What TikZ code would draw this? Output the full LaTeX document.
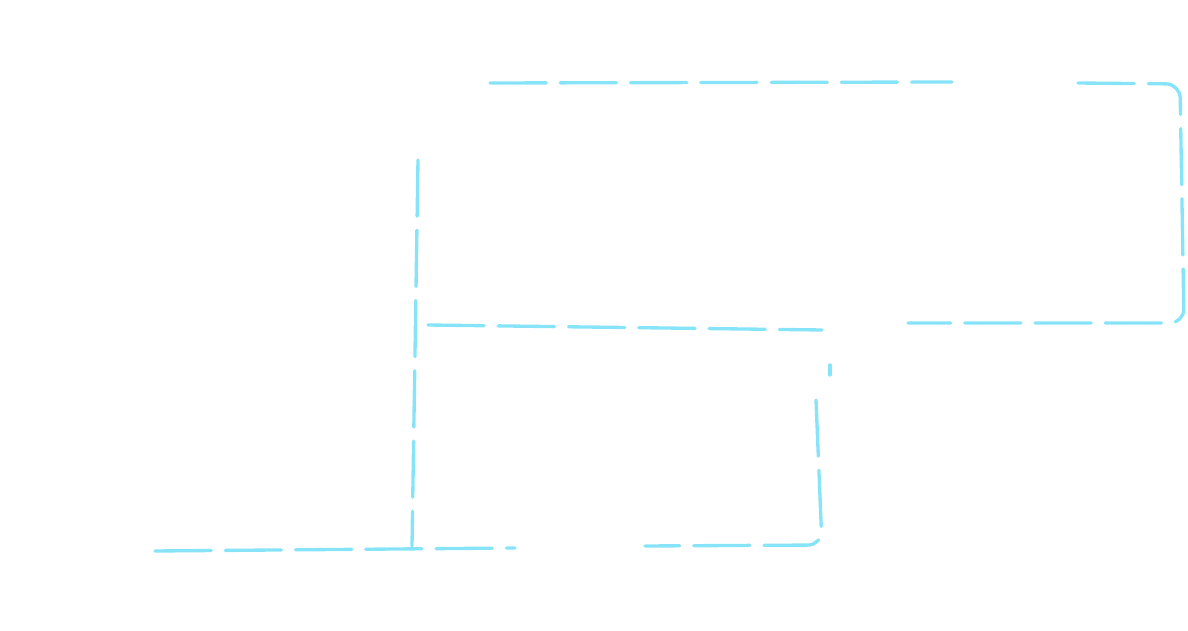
\documentclass[tikz,border=0pt]{standalone}
\definecolor{sketchcyan}{RGB}{135,228,248}

\begin{document}
\begin{tikzpicture}[x=0.02cm, y=-0.02cm,
    sketch/.style={draw=sketchcyan, line width=1.9pt, line cap=round,
      dash pattern=on 32pt off 8pt, rounded corners=8}]
        \useasboundingbox (0,0) rectangle (1188,631);

        % upper box
        \coordinate (topA) at (490,83);
        \coordinate (topB) at (952,82);
        \coordinate (topC) at (1078,83);
        \coordinate (ne) at (1180,84);
        \coordinate (se) at (1184,323);
        \coordinate (botA) at (908,323);

        % lower box
        \coordinate (wTop) at (418,160);
        \coordinate (wBot) at (412,546);
        \coordinate (midA) at (428,325);
        \coordinate (midB) at (822,330);
        \coordinate (eTop) at (830,365);
        \coordinate (eMid) at (816,400);
        \coordinate (sE) at (822,545);
        \coordinate (sW) at (645,546);

        % floor line
        \coordinate (floorA) at (155,551);
        \coordinate (floorB) at (515,548);

        \draw[sketch] (topA) -- (topB);
        \draw[sketch] (topC) -- (ne) -- (se) -- (botA);
        \draw[sketch] (wTop) -- (wBot);
        \draw[sketch] (midA) -- (midB);
        \draw[sketch] (eTop) -- ++(0,10);
        \draw[sketch] (eMid) -- (sE) -- (sW);
        \draw[sketch] (floorA) -- (floorB);
\end{tikzpicture}
\end{document}
